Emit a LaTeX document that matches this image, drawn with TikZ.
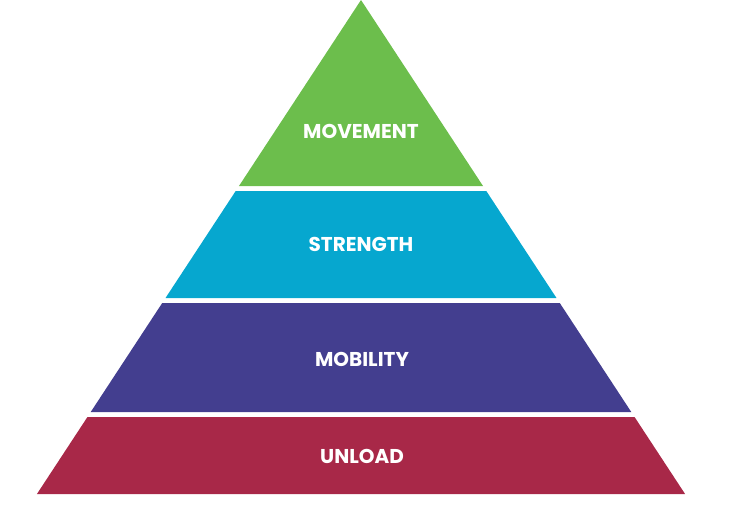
\documentclass[tikz,border=0pt]{standalone}
\usepackage{fontspec}
\setmainfont{Poppins}[UprightFont=* Bold]
\definecolor{cgreen}{RGB}{108,190,76}
\definecolor{cblue}{RGB}{6,167,207}
\definecolor{cpurple}{RGB}{67,62,143}
\definecolor{cred}{RGB}{168,40,72}
\begin{document}
\begin{tikzpicture}[x=1pt,y=-1pt,
  lbl/.style={text=white,font=\fontsize{20}{20}\selectfont,anchor=center,inner sep=0pt}]
\useasboundingbox (0,0) rectangle (730,507);
% apex (361,0), half-width slope 0.656
\def\sl{0.656}
\newcommand{\band}[3]{%
  \fill[#3] ({361-\sl*#1},#1) -- ({361+\sl*#1},#1) -- ({361+\sl*#2},#2) -- ({361-\sl*#2},#2) -- cycle;}
\fill[cgreen] (361,0) -- ({361+\sl*186},186) -- ({361-\sl*186},186) -- cycle;
\band{191}{298}{cblue}
\band{303}{412}{cpurple}
\band{417}{494}{cred}
\node[lbl] (movement) at (361,131.5) {MOVEMENT};
\node[lbl] (strength) at (361,244.5) {STRENGTH};
\node[lbl] (mobility) at (362,359) {MOBILITY};
\node[lbl] (unload) at (362,456.5) {UNLOAD};
\end{tikzpicture}
\end{document}
